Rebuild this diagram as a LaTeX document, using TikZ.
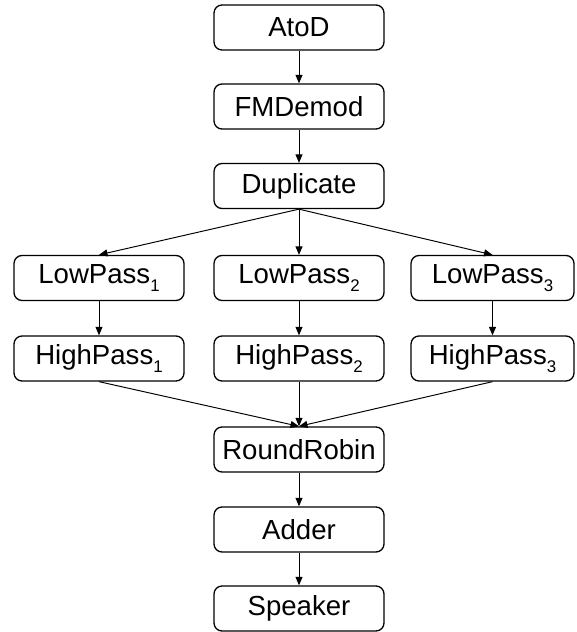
\documentclass[tikz,border=0pt]{standalone}
\usepackage{fontspec}
\setmainfont{Liberation Sans}
\usetikzlibrary{arrows.meta}

\newcommand{\lsub}[1]{\raisebox{-0.55ex}{\fontsize{9.6}{9.6}\selectfont #1}}

\begin{document}
\begin{tikzpicture}[x=0.02cm,y=-0.02cm,
        block/.style={draw, line width=0.75pt, rounded corners=0.16cm, minimum width=3.4cm, minimum height=0.9cm, inner sep=1pt, font=\fontsize{15.7}{18}\selectfont},
        flow/.style={-{Triangle[length=0.17cm,width=0.14cm]}, line width=0.55pt}]
        \useasboundingbox (0,0) rectangle (576,632);

        % Draw the chain on top
        \node[block] (atod) at (299,27.5) {AtoD};
        \node[block] (demod) at (299,106.5) {FMDemod};
        \node[block] (dup) at (299,186) {Duplicate};

        % Draw the three branches
        \node[block] (low1) at (99,278) {LowPass\lsub{1}};
        \node[block] (low2) at (299,278) {LowPass\lsub{2}};
        \node[block, minimum width=3.26cm] (low3) at (492.5,278) {LowPass\lsub{3}};
        \node[block] (high1) at (99,358.5) {HighPass\lsub{1}};
        \node[block] (high2) at (299,358.5) {HighPass\lsub{2}};
        \node[block, minimum width=3.26cm] (high3) at (492.5,358.5) {HighPass\lsub{3}};

        % Draw the chain at the bottom
        \node[block] (robin) at (299,449.5) {RoundRobin};
        \node[block] (adder) at (299,529.5) {Adder};
        \node[block] (speaker) at (299,608.5) {Speaker};

        % Draw arrows
        \draw[flow] (atod.south) -- (demod.north);
        \draw[flow] (demod.south) -- (dup.north);
        \foreach \i in {1,2,3} {
            \draw[flow] (dup.south) -- (low\i.north);
            \draw[flow] (low\i.south) -- (high\i.north);
            \draw[flow] (high\i.south) -- (robin.north);
        }
        \draw[flow] (robin.south) -- (adder.north);
        \draw[flow] (adder.south) -- (speaker.north);

\end{tikzpicture}
\end{document}
